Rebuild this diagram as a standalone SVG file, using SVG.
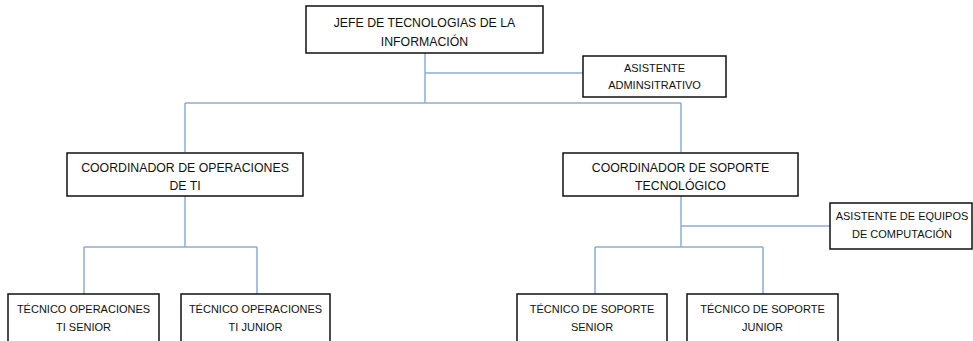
<svg xmlns="http://www.w3.org/2000/svg" width="973" height="341" viewBox="0 0 973 341">
<style>
.box{fill:#fff;stroke:#111;stroke-width:1.5}
.lbl{font-family:"Liberation Sans",Arial,sans-serif;font-size:12.3px;fill:#111;text-anchor:middle}
.sm{font-size:11px}
.con{fill:none;stroke:#8eaadb;stroke-width:1.5}
</style>
<rect width="973" height="341" fill="#fff"/>
<g id="connectors" class="con">
<path d="M425,53 V103"/>
<path d="M425,73 H583"/>
<path d="M185,103 H681"/>
<path d="M185,103 V152"/>
<path d="M681,103 V152"/>
<path d="M185,196 V247"/>
<path d="M84,247 H257"/>
<path d="M84,247 V294"/>
<path d="M257,247 V294"/>
<path d="M681,196 V247"/>
<path d="M681,226 H830"/>
<path d="M595,247 H763"/>
<path d="M595,247 V294"/>
<path d="M763,247 V294"/>
</g>
<g id="jefe"><rect class="box" x="306" y="6" width="237" height="47"/><text class="lbl" x="424.5" y="27">JEFE DE TECNOLOGIAS DE LA</text><text class="lbl" x="424.5" y="46">INFORMACIÓN</text></g>
<g id="asistente-adm"><rect class="box" x="583" y="56" width="143" height="41"/><text class="lbl sm" x="654.5" y="72">ASISTENTE</text><text class="lbl sm" x="654.5" y="89">ADMINSITRATIVO</text></g>
<g id="coord-op"><rect class="box" x="67" y="153" width="236" height="43"/><text class="lbl" x="185" y="172">COORDINADOR DE OPERACIONES</text><text class="lbl" x="185" y="190">DE TI</text></g>
<g id="coord-sop"><rect class="box" x="563" y="153" width="235" height="43"/><text class="lbl" x="680.5" y="172">COORDINADOR DE SOPORTE</text><text class="lbl" x="680.5" y="190">TECNOLÓGICO</text></g>
<g id="asistente-eq"><rect class="box" x="830" y="203" width="142" height="46"/><text class="lbl sm" x="902" y="220">ASISTENTE DE EQUIPOS</text><text class="lbl sm" x="902" y="238">DE COMPUTACIÓN</text></g>
<g id="tec-op-senior"><rect class="box" x="8" y="294" width="151" height="60"/><text class="lbl sm" x="83.5" y="313">TÉCNICO OPERACIONES</text><text class="lbl sm" x="83.5" y="331">TI SENIOR</text></g>
<g id="tec-op-junior"><rect class="box" x="181" y="294" width="149" height="60"/><text class="lbl sm" x="255.5" y="313">TÉCNICO OPERACIONES</text><text class="lbl sm" x="255.5" y="331">TI JUNIOR</text></g>
<g id="tec-sop-senior"><rect class="box" x="517" y="294" width="150" height="60"/><text class="lbl sm" x="592" y="313">TÉCNICO DE SOPORTE</text><text class="lbl sm" x="592" y="331">SENIOR</text></g>
<g id="tec-sop-junior"><rect class="box" x="687" y="294" width="151" height="60"/><text class="lbl sm" x="762.5" y="313">TÉCNICO DE SOPORTE</text><text class="lbl sm" x="762.5" y="331">JUNIOR</text></g>
</svg>
